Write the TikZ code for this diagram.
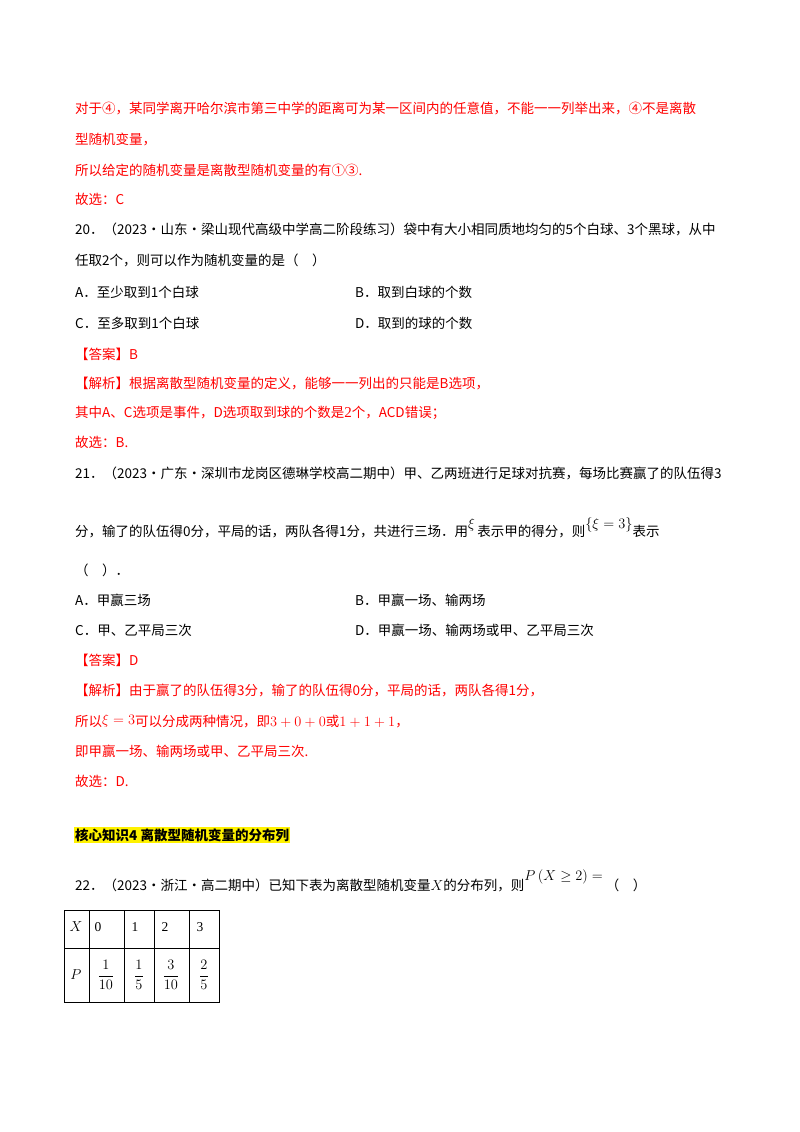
\documentclass[tikz,border=0pt]{standalone}
\usepackage{amsmath}
\usepackage{fontspec}
\setmainfont{Liberation Serif}
\newfontfamily\cjk{Noto Sans CJK SC}
\begin{document}
\begin{tikzpicture}[x=1pt,y=-1pt,
  t/.style={anchor=west,inner sep=0pt,font=\fontsize{13.5}{15}\selectfont\cjk},
  rt/.style={t,text=red},
  tc/.style={font=\fontsize{13.5}{15}\selectfont}]
\useasboundingbox[fill=white] (0,0) rectangle (800,1132);
\node[rt] (l1) at (75,108) {对于④，某同学离开哈尔滨市第三中学的距离可为某一区间内的任意值，不能一一列举出来，④不是离散};
\node[rt] (l2) at (75,139) {型随机变量，};
\node[rt] (l3) at (75,170) {所以给定的随机变量是离散型随机变量的有①③.};
\node[rt] (l4) at (75,199) {故选：C};
\node[t] (q20a) at (75,229) {20．（2023·山东·梁山现代高级中学高二阶段练习）袋中有大小相同质地均匀的5个白球、3个黑球，从中};
\node[t] (q20b) at (75,260) {任取2个，则可以作为随机变量的是（\quad）};
\node[t] (A20) at (75,292) {A．至少取到1个白球};
\node[t] (B20) at (355,292) {B．取到白球的个数};
\node[t] (C20) at (75,323) {C．至多取到1个白球};
\node[t] (D20) at (355,323) {D．取到的球的个数};
\node[rt] (a20) at (75,354) {【答案】B};
\node[rt] (e20a) at (75,383) {【解析】根据离散型随机变量的定义，能够一一列出的只能是B选项，};
\node[rt] (e20b) at (75,413) {其中A、C选项是事件，D选项取到球的个数是{\rmfamily\fontsize{15}{15}\selectfont 2}个，ACD错误；};
\node[rt] (e20c) at (75,442) {故选：B.};
\node[t] (q21a) at (75,473) {21．（2023·广东·深圳市龙岗区德琳学校高二期中）甲、乙两班进行足球对抗赛，每场比赛赢了的队伍得3};
\node[t] (q21b) at (75,528) {分，输了的队伍得0分，平局的话，两队各得1分，共进行三场．用\raisebox{8pt}{$\xi$}\,表示甲的得分，则\raisebox{8pt}{$\{\xi=3\}$}表示};
\node[t] (q21c) at (75,570) {（\quad）．};
\node[t] (A21) at (75,600) {A．甲赢三场};
\node[t] (B21) at (355,600) {B．甲赢一场、输两场};
\node[t] (C21) at (75,630) {C．甲、乙平局三次};
\node[t] (D21) at (355,630) {D．甲赢一场、输两场或甲、乙平局三次};
\node[rt] (a21) at (75,660) {【答案】D};
\node[rt] (e21a) at (75,690) {【解析】由于赢了的队伍得3分，输了的队伍得0分，平局的话，两队各得1分，};
\node[rt] (e21b) at (75,721) {所以\raisebox{2pt}{$\xi=3$}可以分成两种情况，即$3+0+0$或$1+1+1$，};
\node[rt] (e21c) at (75,751) {即甲赢一场、输两场或甲、乙平局三次.};
\node[rt] (e21d) at (75,781) {故选：D.};
\node[t,fill=yellow,inner sep=1pt,font=\fontsize{13.5}{15}\selectfont\cjk\bfseries] (h4) at (74,835) {核心知识4\ 离散型随机变量的分布列};
\node[t] (q22) at (75,881) {22．（2023·浙江·高二期中）已知下表为离散型随机变量$X$的分布列，则\raisebox{10pt}{$P\left(X\ge2\right)=$}\ （\quad）};
% table
\draw[line width=1pt] (64,910) rectangle (219,1002);
\foreach \xx in {89,124,154,189} \draw[line width=1pt] (\xx,910) -- (\xx,1002);
\draw[line width=1pt] (64,948) -- (219,948);
\node[tc] (tX) at (76,927) {$X$};
\node[tc,anchor=west] (t0) at (91,927) {0};
\node[tc,anchor=west] (t1) at (128,927) {1};
\node[tc,anchor=west] (t2) at (158,927) {2};
\node[tc,anchor=west] (t3) at (193,927) {3};
\node[tc] (tP) at (76,975) {$P$};
\node[tc] (p0) at (106,975) {$\dfrac{1}{10}$};
\node[tc] (p1) at (139,975) {$\dfrac{1}{5}$};
\node[tc] (p2) at (171,975) {$\dfrac{3}{10}$};
\node[tc] (p3) at (204,975) {$\dfrac{2}{5}$};
\end{tikzpicture}
\end{document}
